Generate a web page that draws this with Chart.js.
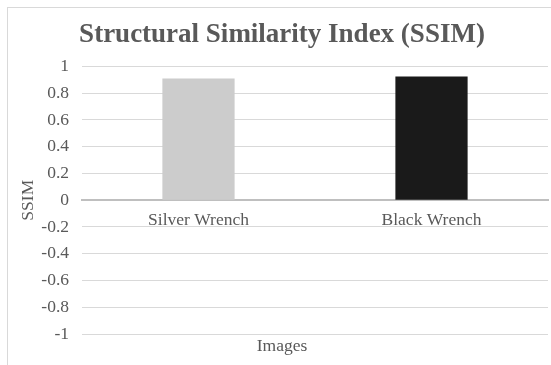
<!DOCTYPE html>
<html>
<head>
<meta charset="utf-8">
<script src="https://cdn.jsdelivr.net/npm/chart.js@4"></script>
<style>
    html, body { margin: 0; padding: 0; background: #ffffff; }
    #wrap { position: relative; width: 551px; height: 365px; }
    #frame { position: absolute; left: 7px; top: 7px; width: 560px; height: 400px; border: 1px solid #d9d9d9; pointer-events: none; }
</style>
</head>
<body>
<div id="wrap">
    <canvas id="chartSsim" width="551" height="365"></canvas>
    <div id="frame"></div>
</div>
<script>
const categorias = ['Silver Wrench', 'Black Wrench'];
const valoresSsim = [0.91, 0.924];
const coresBarras = ['#cccccc', '#1a1a1a'];
const ticksY = [-1, -0.8, -0.6, -0.4, -0.2, 0, 0.2, 0.4, 0.6, 0.8, 1];

const cinzaTexto = '#595959';
const fonteSerif = "'Liberation Serif', 'Times New Roman', serif";

const ctxSsim = document.getElementById('chartSsim');
const chartSsim = new Chart(ctxSsim, {
    type: 'bar',
    data: {
        labels: categorias,
        datasets: [{
            label: 'SSIM',
            data: valoresSsim,
            backgroundColor: coresBarras,
            borderWidth: 0,
            barPercentage: 0.31,
            categoryPercentage: 1
        }]
    },
    options: {
        responsive: false,
        animation: false,
        layout: {
            padding: { left: 16, right: 3, top: 10, bottom: 7 }
        },
        plugins: {
            legend: { display: false },
            tooltip: { enabled: false },
            title: {
                display: true,
                text: 'Structural Similarity Index (SSIM)',
                color: cinzaTexto,
                font: { family: fonteSerif, size: 27, weight: 'bold' },
                padding: { top: 9, bottom: 15 }
            },
            subtitle: {
                display: true,
                position: 'bottom',
                text: 'Images',
                color: cinzaTexto,
                font: { family: fonteSerif, size: 17.5 },
                padding: { top: 1.5, bottom: 1.5 }
            }
        },
        scales: {
            x: {
                position: { y: 0 },
                grid: { display: false, drawTicks: false },
                border: { display: true, color: '#bfbfbf', width: 2 },
                ticks: {
                    color: cinzaTexto,
                    padding: 10,
                    font: { family: fonteSerif, size: 17.5 }
                }
            },
            y: {
                min: -1,
                max: 1,
                afterBuildTicks: function(scale) {
                    scale.ticks = ticksY.map(v => ({ value: v }));
                },
                afterFit: function(scale) {
                    scale.width = 66; // eixo + titulo ate a area do grafico
                },
                grid: { color: '#d9d9d9', drawTicks: false },
                border: { display: false },
                ticks: {
                    color: cinzaTexto,
                    padding: 13,
                    font: { family: fonteSerif, size: 17.5 },
                    callback: function(v) { return String(Math.round(v * 10) / 10); }
                },
                title: {
                    display: true,
                    text: 'SSIM',
                    color: cinzaTexto,
                    font: { family: fonteSerif, size: 17.5 },
                    padding: { top: 2, bottom: 0 }
                }
            }
        }
    }
});
</script>
</body>
</html>
